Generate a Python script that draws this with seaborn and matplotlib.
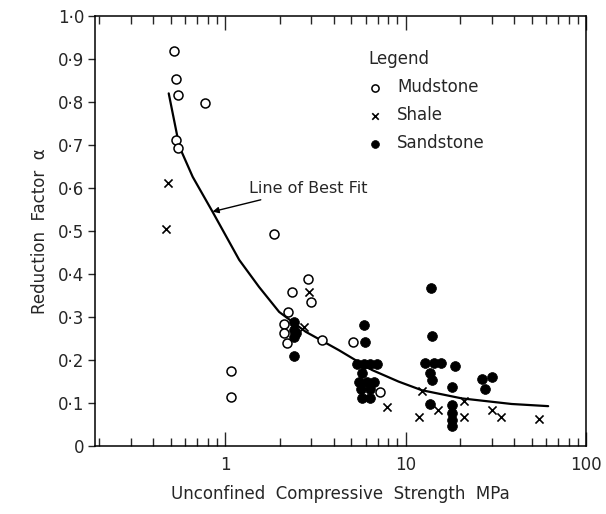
import matplotlib
matplotlib.use("Agg")
import matplotlib.pyplot as plt
import seaborn as sns
import pandas as pd
from matplotlib.ticker import FixedLocator, NullFormatter, LogLocator

# ---- data ----
mud_x = [0.52, 0.53, 0.55, 0.77, 0.53, 0.55, 1.87, 1.08, 1.07, 2.88, 2.97, 2.35,
         2.24, 2.12, 2.12, 2.21, 3.44, 5.10, 7.25]
mud_y = [0.919, 0.853, 0.817, 0.798, 0.712, 0.693, 0.493, 0.175, 0.115, 0.388, 0.336, 0.359,
         0.312, 0.285, 0.262, 0.239, 0.247, 0.243, 0.126]

shale_x = [0.48, 0.47, 2.91, 2.73, 7.9, 12.3, 11.9, 15.1, 21.2, 21.2, 30.0, 33.8, 55.2]
shale_y = [0.612, 0.504, 0.359, 0.277, 0.090, 0.129, 0.067, 0.084, 0.105, 0.067, 0.085, 0.067, 0.064]

sand_x = [2.41, 2.41, 2.41, 2.46, 2.42,
          5.86, 5.93, 5.38, 5.86, 6.38, 6.93, 5.72, 5.50, 6.10, 6.65, 5.63, 6.38, 5.72, 6.38,
          13.8, 14.0, 12.8, 14.3, 15.8, 13.7, 14.0, 13.7,
          18.7, 18.0, 18.1, 18.1, 18.1, 18.1, 26.4, 30.0, 27.5]
sand_y = [0.289, 0.270, 0.254, 0.262, 0.209,
          0.281, 0.243, 0.192, 0.192, 0.192, 0.192, 0.169, 0.150, 0.150, 0.150, 0.134, 0.134, 0.111, 0.111,
          0.367, 0.256, 0.194, 0.194, 0.194, 0.169, 0.153, 0.099,
          0.186, 0.137, 0.095, 0.077, 0.060, 0.046, 0.155, 0.161, 0.132]

fit_x = [0.486, 0.557, 0.66, 0.85, 1.195, 1.54, 1.99, 2.79, 4.27, 6.51, 9.15, 12.3, 20.5, 38.7, 61.7]
fit_y = [0.820, 0.696, 0.626, 0.545, 0.433, 0.370, 0.312, 0.266, 0.223, 0.177, 0.150, 0.130, 0.111, 0.098, 0.093]

y_ticks = [0, 0.1, 0.2, 0.3, 0.4, 0.5, 0.6, 0.7, 0.8, 0.9, 1.0]
y_labels = ["0", "0·1", "0·2", "0·3", "0·4", "0·5", "0·6", "0·7", "0·8", "0·9", "1·0"]
x_ticks = [1, 10, 100]
x_labels = ["1", "10", "100"]

sns.set_style("ticks")
plt.rcParams["font.family"] = ["DejaVu Sans"]

fig = plt.figure(figsize=(6.06, 5.14), dpi=100)
ax = fig.add_axes([0.157, 0.132, 0.810, 0.837])

ax.set_xscale("log")

fit_df = pd.DataFrame({"x": fit_x, "y": fit_y})
sns.lineplot(data=fit_df, x="x", y="y", ax=ax, color="black", lw=1.6, sort=False)

mud_df = pd.DataFrame({"x": mud_x, "y": mud_y})
shale_df = pd.DataFrame({"x": shale_x, "y": shale_y})
sand_df = pd.DataFrame({"x": sand_x, "y": sand_y})

sns.scatterplot(data=mud_df, x="x", y="y", ax=ax, marker="o", s=42,
                facecolor="white", edgecolor="black", linewidth=1.1, label="Mudstone", zorder=3)
sns.scatterplot(data=shale_df, x="x", y="y", ax=ax, marker="x", s=34,
                color="black", linewidth=1.2, label="Shale", zorder=3)
sns.scatterplot(data=sand_df, x="x", y="y", ax=ax, marker="o", s=50,
                color="black", edgecolor="black", linewidth=0.5, label="Sandstone", zorder=3)

ax.set_xlim(0.19, 100)
ax.set_ylim(0, 1.0)

ax.yaxis.set_major_locator(FixedLocator(y_ticks))
ax.set_yticklabels(y_labels)
ax.xaxis.set_major_locator(FixedLocator(x_ticks))
ax.set_xticklabels(x_labels)
ax.xaxis.set_minor_locator(LogLocator(base=10, subs=(2, 3, 4, 5, 6, 7, 8, 9)))
ax.xaxis.set_minor_formatter(NullFormatter())

ax.tick_params(axis="x", which="major", direction="in", length=10, width=1.0,
               top=True, bottom=True, labelsize=12, pad=7)
ax.tick_params(axis="x", which="minor", direction="in", length=6, width=1.0,
               top=True, bottom=True)
ax.tick_params(axis="y", which="major", direction="out", length=5, width=1.0,
               left=True, right=False, labelsize=12, pad=3)

for s in ax.spines.values():
    s.set_linewidth(1.1)
    s.set_color("black")

ax.set_xlabel("Unconfined  Compressive  Strength  MPa", fontsize=12, labelpad=8)
ax.set_ylabel("Reduction  Factor  α", fontsize=12, labelpad=6)

leg = ax.legend(title="Legend", frameon=False, loc="upper left",
                bbox_to_anchor=(0.537, 0.943), fontsize=12, title_fontsize=12,
                handlelength=0.8, handletextpad=0.9, labelspacing=0.6,
                markerscale=0.8, borderaxespad=0.2)
leg._legend_box.align = "left"

ax.annotate("Line of Best Fit", xy=(0.85, 0.545), xytext=(1.36, 0.600),
            fontsize=11.5, va="center", ha="left",
            arrowprops=dict(arrowstyle="-|>", color="black", lw=1.0,
                            shrinkA=3, shrinkB=0, mutation_scale=9))

fig.savefig("out.png", dpi=100)
